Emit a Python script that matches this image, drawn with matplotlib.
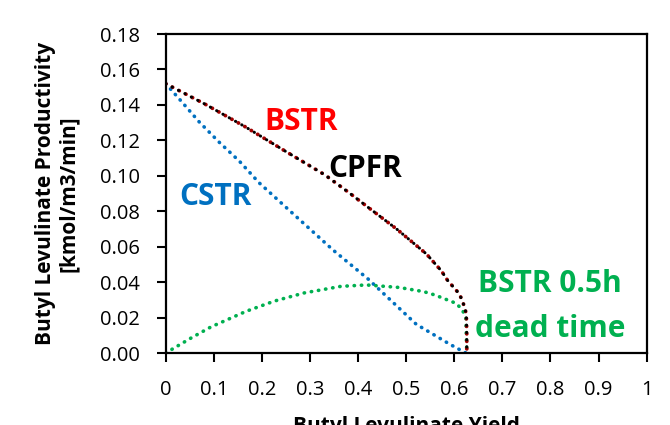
import matplotlib
matplotlib.use("Agg")
import matplotlib.pyplot as plt

# CPFR / BSTR (same curve)
pfr_x = [0.0, 0.082, 0.165, 0.248, 0.331, 0.38, 0.417, 0.48, 0.542, 0.573, 0.586,
         0.611, 0.620, 0.625, 0.626, 0.626]
pfr_y = [0.152, 0.1404, 0.1277, 0.114, 0.1005, 0.0907, 0.083, 0.070, 0.0559, 0.0464, 0.041,
         0.0332, 0.027, 0.0221, 0.010, 0.0]

# CSTR
cstr_x = [0.0, 0.03, 0.07, 0.111, 0.153, 0.194, 0.272, 0.348, 0.421, 0.521, 0.591, 0.624]
cstr_y = [0.152, 0.1428, 0.1303, 0.119, 0.1083, 0.0961, 0.0768, 0.0581, 0.0417, 0.0162,
          0.0049, 0.0]

# BSTR with 0.5h dead time
dead_x = [0.0, 0.053, 0.094, 0.167, 0.226, 0.288, 0.364, 0.417, 0.485, 0.537,
          0.56, 0.604, 0.617, 0.624, 0.626]
dead_y = [0.0, 0.0085, 0.0147, 0.0235, 0.0293, 0.0339, 0.0376, 0.0384, 0.037, 0.0346,
          0.0327, 0.028, 0.0243, 0.0196, 0.0]

x_ticks = [0, 0.1, 0.2, 0.3, 0.4, 0.5, 0.6, 0.7, 0.8, 0.9, 1]
x_labels = ["0", "0.1", "0.2", "0.3", "0.4", "0.5", "0.6", "0.7", "0.8", "0.9", "1"]
y_ticks = [0.0, 0.02, 0.04, 0.06, 0.08, 0.10, 0.12, 0.14, 0.16, 0.18]

BLUE = "#0070C0"
GREEN = "#00B050"
RED = "#FF0000"

plt.rcParams["font.family"] = ["Open Sans", "DejaVu Sans"]

fig = plt.figure(figsize=(6.7, 4.25), dpi=100)
ax = fig.add_axes([0.2473, 0.1694, 0.7179, 0.7506])

DOTS = (0, (0.1, 1.9))
ax.plot(cstr_x, cstr_y, color=BLUE, linestyle=DOTS, linewidth=2.6, dash_capstyle="round")
ax.plot(dead_x, dead_y, color=GREEN, linestyle=DOTS, linewidth=2.6, dash_capstyle="round")
# BSTR (red) sits under CPFR (black)
ax.plot(pfr_x, pfr_y, color="#A00000", linestyle=DOTS, linewidth=2.7, dash_capstyle="round")
ax.plot(pfr_x, pfr_y, color="black", linestyle=(0, (0.1, 2.26)),
        linewidth=2.2, dash_capstyle="round")

ax.set_xlim(0, 1)
ax.set_ylim(0, 0.18)
ax.set_xticks(x_ticks)
ax.set_xticklabels(x_labels)
ax.set_yticks(y_ticks)
ax.set_yticklabels([f"{v:.2f}" for v in y_ticks])
ax.tick_params(axis="both", direction="out", length=6.5, width=1.5, labelsize=14.5,
               colors="black")
ax.tick_params(axis="x", pad=13)
ax.tick_params(axis="y", pad=12)
for s in ax.spines.values():
    s.set_linewidth(1.6)
    s.set_color("black")

ax.set_ylabel("Butyl Levulinate Productivity\n[kmol/m3/min]", fontsize=15,
              fontweight="bold", linespacing=1.15)
ax.yaxis.set_label_coords(-0.18, 0.5)
# the reference crops this label at the bottom edge
ax.set_xlabel("Butyl Levulinate Yield", fontsize=15, fontweight="bold")
ax.xaxis.set_label_coords(0.5, -0.197)

lbl = dict(fontsize=21.5, fontweight="bold", ha="center", va="baseline")
ax.text(0.282, 0.1258, "BSTR", color=RED, **lbl)
ax.text(0.414, 0.0995, "CPFR", color="black", **lbl)
ax.text(0.1035, 0.0835, "CSTR", color=BLUE, **lbl)
ax.text(0.799, 0.0344, "BSTR 0.5h", color=GREEN, **lbl)
ax.text(0.799, 0.009, "dead time", color=GREEN, **lbl)

fig.savefig("out.png", dpi=100)
